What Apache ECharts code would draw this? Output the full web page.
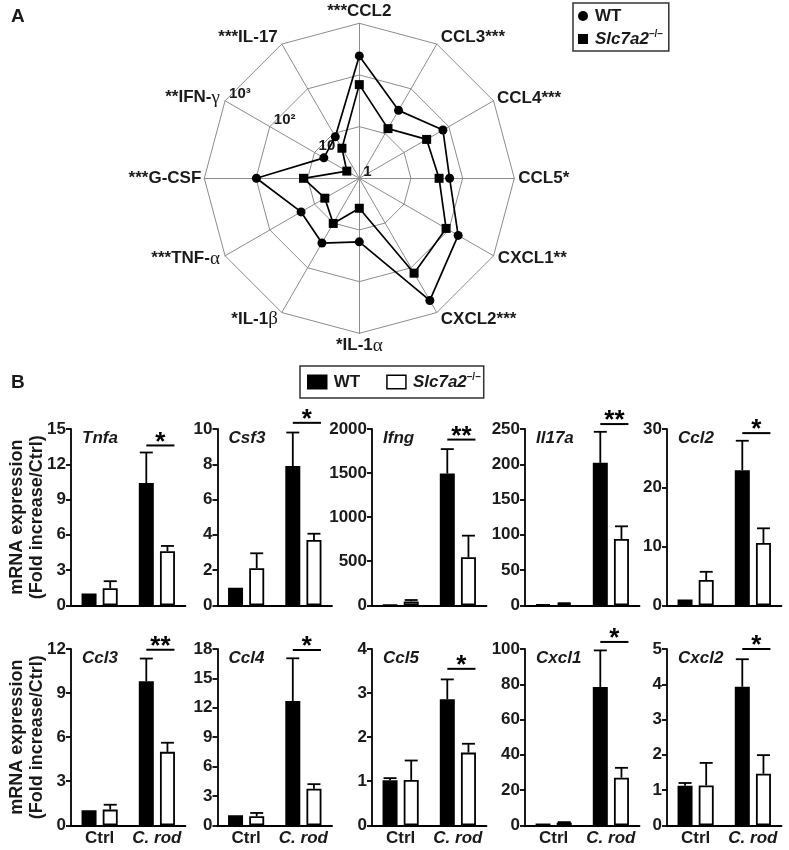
<!DOCTYPE html>
<html>
<head>
<meta charset="utf-8">
<script src="https://cdn.jsdelivr.net/npm/echarts@6/dist/echarts.min.js"></script>
<style>html,body{margin:0;padding:0;background:#fff;}#c{width:789px;height:850px;}</style>
</head>
<body>
<div id="c"></div>
<script>
// ---------- Panel A data (radar, fold increase, log scale) ----------
// indicator order as ECharts places them (counter-clockwise from top)
const radarLabels = ['***CCL2','***IL-17','**IFN-γ','***G-CSF','***TNF-α','*IL-1β','*IL-1α','CXCL2***','CXCL1**','CCL5*','CCL4***','CCL3***'];
const radarWT = [234, 8.5, 6.2, 98, 20, 28, 17, 537, 162, 56, 74, 33];
const radarKO = [65, 4.7, 1.9, 12, 5.9, 10.2, 3.8, 132, 87, 35, 32, 12.9];
const radarTicks = ['1', '10', '10²', '10³'];

// ---------- Panel B data (bar charts) ----------
const genes = ['Tnfa','Csf3','Ifng','Il17a','Ccl2','Ccl3','Ccl4','Ccl5','Cxcl1','Cxcl2'];
const groups = ['Ctrl', 'C. rod'];
const yMax = [15, 10, 2000, 250, 30, 12, 18, 4, 100, 5];
const yStep = [3, 2, 500, 50, 10, 3, 3, 1, 20, 1];
const wtCtrl    = [1.0, 1.0, 4, 1.5, 1.0, 1.02, 1.02, 1.02, 1.0, 1.12];
const wtCtrlSem = [0, 0, 0, 0, 0, 0, 0, 0.05, 0, 0.08];
const koCtrl    = [1.45, 2.1, 44, 2.5, 4.3, 1.07, 0.92, 1.03, 1.5, 1.13];
const koCtrlSem = [0.6, 0.85, 16, 0.5, 1.4, 0.33, 0.34, 0.44, 0.3, 0.64];
const wtCrod    = [10.4, 7.9, 1495, 202, 23.0, 9.8, 12.7, 2.86, 78.5, 3.93];
const wtCrodSem = [2.6, 1.9, 277, 44, 5.0, 1.55, 4.35, 0.45, 20.7, 0.78];
const koCrod    = [4.6, 3.7, 545, 94, 10.6, 5.0, 3.74, 1.65, 27, 1.46];
const koCrodSem = [0.45, 0.36, 245, 18, 2.5, 0.62, 0.46, 0.2, 5.6, 0.53];
const sigLevel  = [13.6, 10.35, 1880, 257, 29.3, 11.95, 17.9, 3.55, 104, 5.0];
const sigStars  = ['*','*','**','**','*','**','*','*','*','*'];

// ---------- styling / layout ----------
const FONT = '"Liberation Sans", Arial, Helvetica, sans-serif';
const TXT = '#1a1a1a';
const nameGaps = [3, 8, 6, 3, 6, 8, 3, 8, 5, 4, 4, 8];
const gridLefts = [71, 217.5, 372, 525, 667];
const gridTops = [429, 649];
const GRID_W = 114.5, GRID_H = 176.3;
const BAR_W = 15, BAR_GAP = 0.41;
const BAR_OFF = BAR_W * (1 + BAR_GAP) / 2;

const chart = echarts.init(document.getElementById('c'), null, {renderer: 'canvas'});

const grids = [], xAxes = [], yAxes = [], series = [];
const titles = [
  {text: 'A', left: 6, top: 2, textStyle: {fontFamily: FONT, fontSize: 19, fontWeight: 'bold', color: TXT}},
  {text: 'B', left: 6, top: 368, textStyle: {fontFamily: FONT, fontSize: 19, fontWeight: 'bold', color: TXT}}
];

genes.forEach(function (g, i) {
  const row = i < 5 ? 0 : 1;
  const col = i % 5;
  grids.push({left: gridLefts[col], top: gridTops[row], width: GRID_W, height: GRID_H, containLabel: false});
  xAxes.push({
    type: 'category', gridIndex: i, data: groups,
    axisLine: {lineStyle: {color: '#000', width: 1.8}},
    axisTick: {alignWithLabel: true, length: 5, lineStyle: {color: '#000', width: 1.8}},
    axisLabel: {
      show: row === 1, interval: 0, margin: 5, color: TXT, hideOverlap: false,
      fontFamily: FONT, fontSize: 17, fontWeight: 'bold',
      formatter: function (v, idx) { return idx === 1 ? '{it|' + v + '}' : v; },
      rich: {it: {fontFamily: FONT, fontSize: 17, fontWeight: 'bold', fontStyle: 'italic', color: TXT}}
    }
  });
  yAxes.push({
    type: 'value', gridIndex: i, min: 0, max: yMax[i], interval: yStep[i],
    name: col === 0 ? 'mRNA expression\n(Fold increase/Ctrl)' : '',
    nameLocation: 'middle', nameRotate: 90, nameGap: 24, nameMoveOverlap: false,
    nameTextStyle: {fontFamily: FONT, fontSize: 18, fontWeight: 'bold', color: TXT, lineHeight: 20},
    axisLine: {show: true, lineStyle: {color: '#000', width: 1.8}},
    axisTick: {show: true, length: 5, lineStyle: {color: '#000', width: 1.8}},
    splitLine: {show: false},
    axisLabel: {margin: 5, color: TXT, fontFamily: FONT, fontSize: 17, fontWeight: 'bold',
      formatter: function (v) { return String(v); }}
  });
  titles.push({
    text: g, left: gridLefts[col] + 6, top: gridTops[row] - 4,
    textStyle: {fontFamily: FONT, fontSize: 17, fontWeight: 'bold', fontStyle: 'italic', color: TXT}
  });
  series.push({
    type: 'bar', name: 'WT', xAxisIndex: i, yAxisIndex: i,
    data: [wtCtrl[i], wtCrod[i]], barWidth: BAR_W, barGap: (BAR_GAP * 100) + '%',
    itemStyle: {color: '#000', borderColor: '#000', borderWidth: 1.5}, z: 3
  });
  series.push({
    type: 'bar', name: 'KO', xAxisIndex: i, yAxisIndex: i,
    data: [koCtrl[i], koCrod[i]], barWidth: BAR_W, barGap: (BAR_GAP * 100) + '%',
    itemStyle: {color: '#fff', borderColor: '#000', borderWidth: 1.8}, z: 3
  });
  series.push({
    type: 'custom', xAxisIndex: i, yAxisIndex: i, clip: false, z: 2, silent: true,
    data: [[0, 0, wtCtrl[i], wtCtrlSem[i]], [0, 1, koCtrl[i], koCtrlSem[i]],
           [1, 0, wtCrod[i], wtCrodSem[i]], [1, 1, koCrod[i], koCrodSem[i]]],
    renderItem: function (params, api) {
      const cat = api.value(0), grp = api.value(1), mean = api.value(2), sem = api.value(3);
      if (!(sem > 0)) return null;
      const p0 = api.coord([cat, mean]);
      const p1 = api.coord([cat, mean + sem]);
      const x = p0[0] + (grp === 0 ? -BAR_OFF : BAR_OFF);
      return {type: 'group', children: [
        {type: 'line', shape: {x1: x, y1: p0[1], x2: x, y2: p1[1]}, style: {stroke: '#000', lineWidth: 1.8}},
        {type: 'line', shape: {x1: x - 6.5, y1: p1[1], x2: x + 6.5, y2: p1[1]}, style: {stroke: '#000', lineWidth: 1.8}}
      ]};
    }
  });
  series.push({
    type: 'custom', xAxisIndex: i, yAxisIndex: i, clip: false, z: 4, silent: true,
    data: [[1, sigLevel[i]]],
    renderItem: (function (gi) {
      return function (params, api) {
        const p = api.coord([api.value(0), api.value(1)]);
        const x0 = p[0] - BAR_OFF, x1 = p[0] + BAR_OFF + 7;
        return {type: 'group', children: [
          {type: 'line', shape: {x1: x0, y1: p[1], x2: x1, y2: p[1]}, style: {stroke: '#000', lineWidth: 2}},
          {type: 'text', x: (x0 + x1) / 2, y: p[1] - 3,
           style: {text: sigStars[gi], fill: '#000', font: 'bold 26px ' + FONT, textAlign: 'center', textVerticalAlign: 'middle'}}
        ]};
      };
    })(i)
  });
});

// radar series
const indicators = radarLabels.map(function (n, k) {
  const ind = {name: n, min: 0, max: 3, nameGap: nameGaps[k]};
  if (n.indexOf('IFN') >= 0) {
    ind.axisLabel = {
      show: true, color: TXT, fontFamily: FONT, fontSize: 15, fontWeight: 'bold', margin: -8,
      align: 'left', verticalAlign: 'middle',
      formatter: function (v) { return radarTicks[Math.round(v)]; }
    };
  }
  return ind;
});

series.push({
  type: 'radar', radarIndex: 0, z: 5,
  data: [
    {name: 'rWT', value: radarWT.map(function (v) { return Math.log10(v); }),
     symbol: 'circle', symbolSize: 9,
     lineStyle: {color: '#000', width: 1.7}, itemStyle: {color: '#000'}},
    {name: 'rKO', value: radarKO.map(function (v) { return Math.log10(v); }),
     symbol: 'rect', symbolSize: 9,
     lineStyle: {color: '#000', width: 1.7}, itemStyle: {color: '#000'}}
  ]
});

const richLegend = {
  b: {fontFamily: FONT, fontSize: 17, fontWeight: 'bold', color: TXT, padding: [0, 0, 0, 2]},
  i: {fontFamily: FONT, fontSize: 17, fontWeight: 'bold', fontStyle: 'italic', color: TXT, padding: [0, 0, 0, 2]},
  s: {fontFamily: FONT, fontSize: 10, fontWeight: 'bold', color: TXT, verticalAlign: 'top', lineHeight: 12}
};

const option = {
  backgroundColor: '#fff',
  animation: false,
  title: titles,
  radar: {
    center: [359.3, 178.3], radius: 155, startAngle: 90, splitNumber: 3, shape: 'polygon',
    indicator: indicators,
    axisName: {
      color: TXT, fontFamily: FONT, fontSize: 17, fontWeight: 'bold',
      formatter: function (name) { return name.replace(/([αβγ])/g, '{g|$1}'); },
      rich: {g: {fontFamily: '"Liberation Serif", "DejaVu Serif", serif', fontSize: 19, fontWeight: 'normal', color: TXT}}
    },
    splitLine: {lineStyle: {color: '#8c8c8c', width: 1}},
    splitArea: {show: false},
    axisLine: {lineStyle: {color: '#8c8c8c', width: 1}},
    axisTick: {show: false},
    axisLabel: {show: false}
  },
  legend: [
    {
      data: [{name: 'rWT', icon: 'circle'}, {name: 'rKO', icon: 'rect'}],
      orient: 'vertical', left: 573, top: 3,
      itemWidth: 10, itemHeight: 10, itemGap: 3,
      padding: [3, 6, 2, 5],
      borderColor: '#333', borderWidth: 1.5,
      itemStyle: {color: '#000'},
      formatter: function (n) { return n === 'rWT' ? '{b|WT}' : '{i|Slc7a2}{s|–/–}'; },
      textStyle: {rich: richLegend, lineHeight: 20},
      selectedMode: false
    },
    {
      data: [
        {name: 'WT', icon: 'rect', itemStyle: {color: '#000', borderColor: '#000', borderWidth: 1.5}},
        {name: 'KO', icon: 'rect', itemStyle: {color: '#fff', borderColor: '#000', borderWidth: 1.5}}
      ],
      orient: 'horizontal', left: 300, top: 366,
      itemWidth: 19, itemHeight: 13.5, itemGap: 26,
      padding: [6, 3, 6, 7],
      borderColor: '#333', borderWidth: 1.5,
      formatter: function (n) { return n === 'WT' ? '{b|WT}' : '{i|Slc7a2}{s|–/–}'; },
      textStyle: {rich: richLegend, lineHeight: 20},
      selectedMode: false
    }
  ],
  grid: grids,
  xAxis: xAxes,
  yAxis: yAxes,
  series: series
};

chart.setOption(option);
</script>
</body>
</html>
